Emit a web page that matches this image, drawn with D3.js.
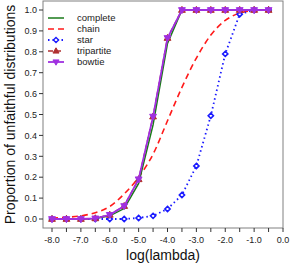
<!DOCTYPE html>
<html><head><meta charset="utf-8">
<script src="https://cdn.jsdelivr.net/npm/d3@7"></script>
<style>body{margin:0;background:#fff}svg{display:block}</style>
</head><body>
<svg id="c" width="291" height="269"></svg>
<script>
const xs = [-8,-7.5,-7,-6.5,-6,-5.5,-5,-4.5,-4,-3.5,-3,-2.5,-2,-1.5,-1,-0.5];
const complete   = [0,0,0,0.002,0.015,0.05,0.17,0.45,0.84,1,1,1,1,1,1,1];
const chain      = [0.004,0.008,0.015,0.03,0.06,0.12,0.2,0.31,0.47,0.63,0.77,0.88,0.95,0.985,0.997,1];
const star       = [0,0,0,0,0,0,0.005,0.015,0.048,0.115,0.254,0.494,0.79,0.98,1,1];
const tripartite = [0,0,0,0.003,0.02,0.062,0.19,0.49,0.866,1,1,1,1,1,1,1];
const bowtie     = [0,0,0,0.003,0.02,0.062,0.19,0.49,0.866,1,1,1,1,1,1,1];
const seriesNames = ["complete","chain","star","tripartite","bowtie"];
const xTickLabels = [-8,-7,-6,-5,-4,-3,-2,-1,0];
const yTickLabels = [0,0.1,0.2,0.3,0.4,0.5,0.6,0.7,0.8,0.9,1.0];

const svg = d3.select("#c");
const L=43, R=283, T=1, B=228;
const x = d3.scaleLinear().domain([-8,0]).range([52,283]);
const y = d3.scaleLinear().domain([0,1]).range([219,10]);
const font = "Liberation Sans, Arial, sans-serif";
const axisCol = "#808080";

svg.append("rect").attr("x",L).attr("y",T).attr("width",R-L).attr("height",B-T)
  .attr("fill","none").attr("stroke",axisCol).attr("stroke-width",1);

const xt = d3.range(-8,0.01,0.5);
svg.selectAll(".xt").data(xt).join("line")
  .attr("x1",d=>x(d)).attr("x2",d=>x(d)).attr("y1",B).attr("y2",B+4)
  .attr("stroke","#333").attr("stroke-width",1);
svg.selectAll(".xl").data(xTickLabels).join("text")
  .attr("x",d=>x(d)).attr("y",B+15).attr("text-anchor","middle")
  .attr("font-family",font).attr("font-size",9).attr("fill","#222")
  .text(d=>d3.format(".1f")(d).replace("−","-"));
svg.selectAll(".yt").data(yTickLabels).join("line")
  .attr("x1",L-4).attr("x2",L).attr("y1",d=>y(d)).attr("y2",d=>y(d))
  .attr("stroke","#333").attr("stroke-width",1);
svg.selectAll(".yl").data(yTickLabels).join("text")
  .attr("x",L-6).attr("y",d=>y(d)+3.2).attr("text-anchor","end")
  .attr("font-family",font).attr("font-size",9).attr("fill","#222")
  .text(d=>d3.format(".1f")(d));

svg.append("text").attr("x",(L+R)/2).attr("y",260).attr("text-anchor","middle")
  .attr("font-family",font).attr("font-size",14).attr("fill","#111").text("log(lambda)");
svg.append("text").attr("transform",`translate(15,${(T+B)/2}) rotate(-90)`)
  .attr("text-anchor","middle").attr("font-family",font).attr("font-size",14)
  .attr("fill","#111").text("Proportion of unfaithful distributions");

const styles = {
  complete:   {color:"#1a7a1a", dash:null, w:1.5, marker:null},
  chain:      {color:"#ff1a1a", dash:"6,4", w:1.6, marker:null},
  star:       {color:"#1a1aff", dash:"1.5,3", w:1.8, marker:"diamond"},
  tripartite: {color:"#b03030", dash:"5,3", w:1.5, marker:"tri"},
  bowtie:     {color:"#a030e0", dash:null, w:1.8, marker:"dtri"}
};
const data = {complete, chain, star, tripartite, bowtie};
const lineGen = d3.line().x(d=>x(d[0])).y(d=>y(d[1]));
const lineSmooth = d3.line().x(d=>x(d[0])).y(d=>y(d[1])).curve(d3.curveMonotoneX);

function markerPath(type, s){
  if(type==="diamond") return `M0,${-s}L${s},0L0,${s}L${-s},0Z`;
  if(type==="tri") return `M0,${-s}L${s*0.95},${s*0.65}L${-s*0.95},${s*0.65}Z`;
  if(type==="dtri") return `M0,${s}L${s*0.95},${-s*0.65}L${-s*0.95},${-s*0.65}Z`;
}
const plotG = svg.append("g");
const order = ["chain","complete","star","tripartite","bowtie"];
order.forEach(name=>{
  const st = styles[name];
  const pts = xs.map((v,i)=>[v,data[name][i]]);
  plotG.append("path").attr("d",(name==="chain"?lineSmooth:lineGen)(pts))
    .attr("fill","none").attr("stroke",st.color).attr("stroke-width",st.w)
    .attr("stroke-dasharray",st.dash);
  if(st.marker){
    plotG.selectAll(null).data(pts).join("path")
      .attr("transform",d=>`translate(${x(d[0])},${y(d[1])})`)
      .attr("d",markerPath(st.marker, st.marker==="diamond"?2.6:3.6))
      .attr("fill",st.marker==="diamond"?"#fff":st.color)
      .attr("stroke",st.color).attr("stroke-width",st.marker==="diamond"?1.6:1);
  }
});

const lg = svg.append("g");
seriesNames.forEach((name,i)=>{
  const st = styles[name];
  const yy = 18 + i*11;
  lg.append("line").attr("x1",48).attr("x2",64).attr("y1",yy).attr("y2",yy)
    .attr("stroke",st.color).attr("stroke-width",st.w).attr("stroke-dasharray",st.dash);
  if(st.marker){
    lg.append("path").attr("transform",`translate(56,${yy})`)
      .attr("d",markerPath(st.marker, st.marker==="diamond"?2.6:3.2))
      .attr("fill",st.marker==="diamond"?"#fff":st.color)
      .attr("stroke",st.color).attr("stroke-width",st.marker==="diamond"?1.4:1);
  }
  lg.append("text").attr("x",77).attr("y",yy+3.3).attr("font-family",font)
    .attr("font-size",9.5).attr("fill","#222").text(name);
});
</script>
</body></html>
